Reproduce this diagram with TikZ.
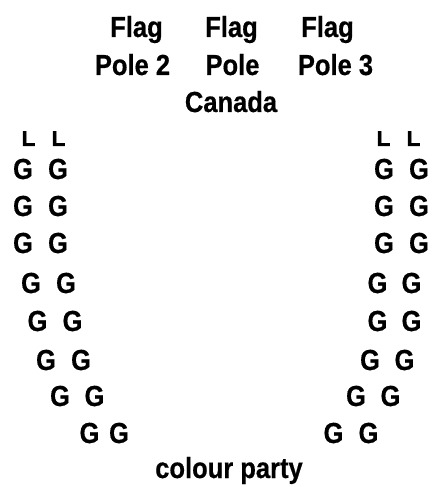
\documentclass[tikz,border=0pt]{standalone}
\usepackage{fontspec}
\newfontfamily\narrowbold{Liberation Sans}[FakeStretch=0.88,FakeBold=0.5]
\begin{document}
\begin{tikzpicture}[x=1pt,y=1pt,
  lbl/.style={inner sep=0pt, anchor=base,
    font=\narrowbold\bfseries\fontsize{29}{31}\selectfont},
  guard/.style={lbl},
  leader/.style={inner sep=0pt, anchor=base,
    font=\narrowbold\bfseries\fontsize{26}{28}\selectfont}]
  \useasboundingbox[fill=white] (0,0) rectangle (432,487);

  % flag poles
  \node[lbl] (flag2)  at (136.5,450) {Flag};
  \node[lbl] (pole2)  at (132.5,412) {Pole 2};
  \node[lbl] (flag1)  at (231.5,450) {Flag};
  \node[lbl] (pole1)  at (232.5,412) {Pole};
  \node[lbl] (canada) at (231,375)   {Canada};
  \node[lbl] (flag3)  at (327.5,450) {Flag};
  \node[lbl] (pole3)  at (335.5,412) {Pole 3};

  % leaders at the head of each file; their tops are cut off
  \begin{scope}
    \clip (0,0) rectangle (432,355);
    \node[leader] (la) at (28.5,341)  {L};
    \node[leader] (lb) at (58.5,341)  {L};
    \node[leader] (lc) at (383.5,341) {L};
    \node[leader] (ld) at (413.5,341) {L};
  \end{scope}

  % guards, two files on each side
  \foreach \n/\y/\xa/\xb/\xc/\xd in {
      1/308/23/58/384/419,
      2/271/23/58/384/419,
      3/234/23/58/384/419,
      4/194/31/66/377.5/411.5,
      5/156/37.5/72.5/377.5/411.5,
      6/117/46/81/370/404.5,
      7/81/60/94.5/356/390.5,
      8/44/89.5/119/333.5/368.5}{
    \node[guard] (ga\n) at (\xa,\y) {G};
    \node[guard] (gb\n) at (\xb,\y) {G};
    \node[guard] (gc\n) at (\xc,\y) {G};
    \node[guard] (gd\n) at (\xd,\y) {G};
  }

  \node[lbl] (party) at (229,9) {colour party};
\end{tikzpicture}
\end{document}
